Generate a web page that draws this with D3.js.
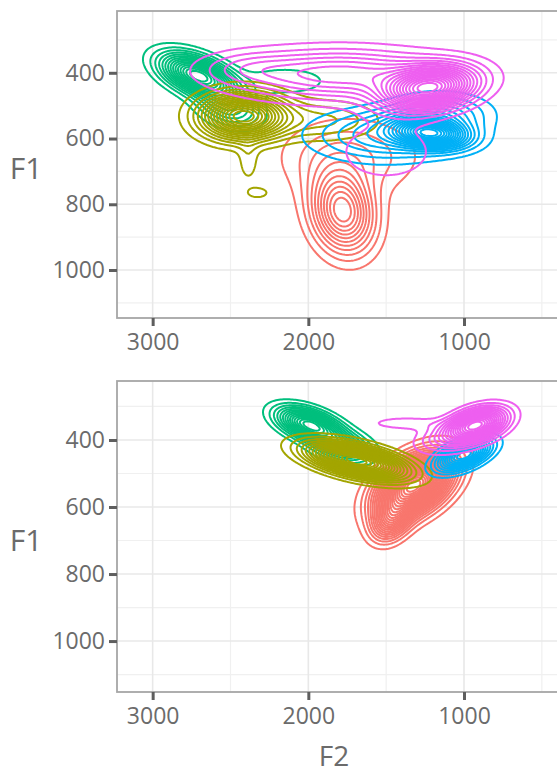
<!DOCTYPE html>
<html><head><meta charset="utf-8">
<script src="https://cdn.jsdelivr.net/npm/d3@7"></script>
<style>body{margin:0;background:#fff}svg{display:block}</style>
</head><body>
<svg id="chart" width="557" height="776"></svg>
<script>
// ---------- data ----------
const vowels = ["a", "e", "i", "o", "u"];
const vowelColors = ["#F8766D", "#A3A500", "#00BF7D", "#00B0F6", "#EE5FF0"];
const drawOrder = ["a", "i", "e", "o", "u"];
const xTicks = [3000, 2000, 1000];
const xMinor = [2500, 1500, 500];
const yTicks = [400, 600, 800, 1000];
const yMinor = [300, 500, 700, 900, 1100];

// density components:
// [vowel, F2 centre, F1 centre, F2 spread, F1 spread, correlation, peak weight]
const topComponents = [
  ["a", 1780, 822, 130, 80, -0.15, 1.0],
  ["a", 1740, 655, 280, 75, 0.0, 0.27],
  ["e", 2420, 532, 175, 45, 0.0, 1.0],
  ["e", 1900, 545, 230, 40, 0.0, 0.2],
  ["e", 2385, 670, 45, 45, 0.0, 0.1],
  ["e", 2323, 765, 60, 14, 0.0, 0.095],
  ["i", 2710, 408, 150, 42, -0.5, 1.0],
  ["i", 2510, 505, 130, 40, -0.3, 0.35],
  ["i", 2150, 425, 200, 30, 0.0, 0.12],
  ["o", 1210, 585, 150, 28, -0.2, 1.0],
  ["o", 1500, 590, 300, 50, 0.0, 0.35],
  ["o", 1150, 525, 200, 40, 0.0, 0.3],
  ["u", 1225, 448, 185, 42, 0.25, 1.0],
  ["u", 1800, 405, 450, 50, 0.0, 0.4],
  ["u", 2400, 385, 200, 32, 0.0, 0.1],
  ["u", 1500, 640, 250, 70, 0.0, 0.1]
];
const topLevels = [11, 15, 15, 18, 18];

const bottomComponents = [
  ["a", 1320, 535, 150, 58, 0.45, 1.0],
  ["a", 1470, 640, 80, 40, 0.3, 0.35],
  ["e", 1690, 462, 200, 34, -0.55, 1.0],
  ["i", 1990, 355, 130, 33, -0.5, 1.0],
  ["i", 1780, 420, 120, 30, -0.3, 0.5],
  ["o", 1000, 445, 110, 30, 0.55, 1.0],
  ["u", 920, 355, 120, 32, 0.4, 1.0],
  ["u", 1120, 395, 130, 30, 0.3, 0.2],
  ["u", 1380, 350, 170, 14, 0.0, 0.1]
];
const bottomLevels = [25, 18, 14, 12, 16];

// ---------- layout ----------
const svg = d3.select("#chart");
const panelLeft = 117, panelRight = 575;
const panels = [
  {top: 11, bottom: 318, f1: [212, 1146], comps: topComponents, levels: topLevels},
  {top: 381, bottom: 692, f1: [224, 1152], comps: bottomComponents, levels: bottomLevels}
];
const x = d3.scaleLinear().domain([3229, 287]).range([panelLeft, panelRight]);
const textCol = "#6b6b6b";
const font = "'Open Sans', sans-serif";

panels.forEach((p, pi) => {
  const y = d3.scaleLinear().domain(p.f1).range([p.top, p.bottom]);
  const g = svg.append("g");
  const clipId = "clip" + pi;
  svg.append("clipPath").attr("id", clipId).append("rect")
    .attr("x", panelLeft).attr("y", p.top)
    .attr("width", panelRight - panelLeft).attr("height", p.bottom - p.top);

  // grid
  const grid = g.append("g");
  grid.selectAll(".vminor").data(xMinor).join("line")
    .attr("x1", d => x(d)).attr("x2", d => x(d)).attr("y1", p.top).attr("y2", p.bottom)
    .attr("stroke", "#f0f0f0").attr("stroke-width", 1.2);
  grid.selectAll(".hminor").data(yMinor).join("line")
    .attr("y1", d => y(d)).attr("y2", d => y(d)).attr("x1", panelLeft).attr("x2", panelRight)
    .attr("stroke", "#f0f0f0").attr("stroke-width", 1.2);
  grid.selectAll(".vmajor").data(xTicks).join("line")
    .attr("x1", d => x(d)).attr("x2", d => x(d)).attr("y1", p.top).attr("y2", p.bottom)
    .attr("stroke", "#e8e8e8").attr("stroke-width", 1.6);
  grid.selectAll(".hmajor").data(yTicks).join("line")
    .attr("y1", d => y(d)).attr("y2", d => y(d)).attr("x1", panelLeft).attr("x2", panelRight)
    .attr("stroke", "#e8e8e8").attr("stroke-width", 1.6);

  // density grid
  const step = 1.5;
  const nx = Math.ceil((panelRight - panelLeft) / step) + 1;
  const ny = Math.ceil((p.bottom - p.top) / step) + 1;
  const cg = g.append("g").attr("clip-path", `url(#${clipId})`);
  const proj = d3.geoTransform({
    point(cx, cy) { this.stream.point(panelLeft + (cx - 0.5) * step, p.top + (cy - 0.5) * step); }
  });
  const path = d3.geoPath(proj);

  drawOrder.forEach(v => {
    const vi = vowels.indexOf(v);
    const comps = p.comps.filter(c => c[0] === v);
    const vals = new Float64Array(nx * ny);
    let maxV = 0;
    for (let j = 0; j < ny; j++) {
      const f1 = y.invert(p.top + j * step);
      for (let i = 0; i < nx; i++) {
        const f2 = x.invert(panelLeft + i * step);
        let s = 0;
        for (const c of comps) {
          const dx = (f2 - c[1]) / c[3], dy = (f1 - c[2]) / c[4], r = c[5];
          const z = (dx * dx - 2 * r * dx * dy + dy * dy) / (1 - r * r);
          s += c[6] * Math.exp(-0.5 * z);
        }
        vals[j * nx + i] = s;
        if (s > maxV) maxV = s;
      }
    }
    const n = p.levels[vi];
    const th = d3.range(1, n + 1).map(k => maxV * k / (n + 1));
    const cs = d3.contours().size([nx, ny]).thresholds(th)(vals);
    cg.selectAll(null).data(cs).join("path")
      .attr("d", path)
      .attr("fill", "none")
      .attr("stroke", vowelColors[vi])
      .attr("stroke-width", 2)
      .attr("stroke-linejoin", "round");
  });

  // border
  g.append("rect").attr("x", panelLeft).attr("y", p.top)
    .attr("width", panelRight - panelLeft).attr("height", p.bottom - p.top)
    .attr("fill", "none").attr("stroke", "#a6a6a6").attr("stroke-width", 1.8);

  // axes
  const xa = g.append("g").attr("transform", `translate(0,${p.bottom})`)
    .call(d3.axisBottom(x).tickValues(xTicks).tickSize(8).tickPadding(4).tickFormat(d3.format("d")));
  const ya = g.append("g").attr("transform", `translate(${panelLeft},0)`)
    .call(d3.axisLeft(y).tickValues(yTicks).tickSize(8).tickPadding(4).tickFormat(d3.format("d")));
  [xa, ya].forEach(a => {
    a.select(".domain").remove();
    a.selectAll(".tick line").attr("stroke", "#5e5e5e").attr("stroke-width", 3);
    a.selectAll(".tick text").attr("fill", textCol).style("font-family", font).style("font-size", "23px");
  });
  xa.selectAll(".tick text").attr("dy", "0.85em");

  g.append("text").attr("x", 26).attr("y", (p.top + p.bottom) / 2 + 14)
    .attr("text-anchor", "middle").attr("fill", textCol)
    .style("font-family", font).style("font-size", "30px").text("F1");
});

svg.append("text").attr("x", 334).attr("y", 766).attr("text-anchor", "middle")
  .attr("fill", textCol).style("font-family", font).style("font-size", "28px").text("F2");
</script>
</body></html>
